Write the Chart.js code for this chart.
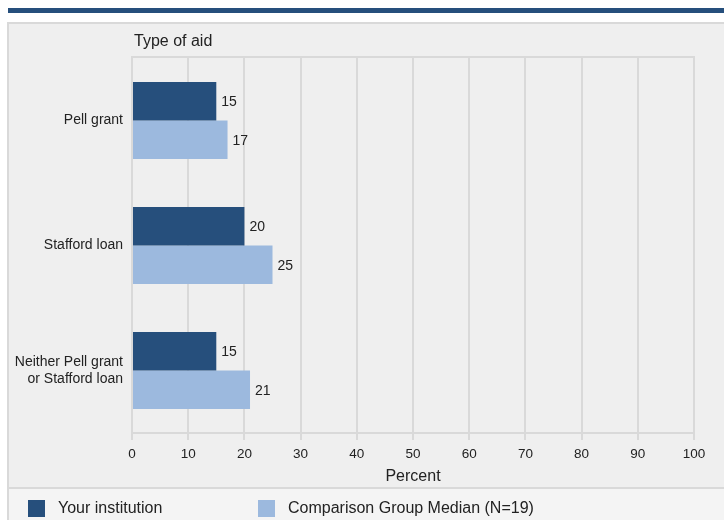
<!DOCTYPE html>
<html lang="en">
<head>
    <meta charset="UTF-8">
    <title>Type of aid</title>
    <style>
        body {
            margin: 0;
            padding: 0;
            background: #ffffff;
            font-family: "Liberation Sans", Arial, sans-serif;
        }
        #wrap {
            position: relative;
            width: 724px;
            height: 520px;
        }
    </style>
</head>
<body>
    <div id="wrap">
        <canvas id="aidChart" width="724" height="520"></canvas>
    </div>

    <script src="https://cdn.jsdelivr.net/npm/chart.js"></script>
    <script>
        // chart data
        const categories = ['Pell grant', 'Stafford loan', ['Neither Pell grant', 'or Stafford loan']];
        const seriesNames = ['Your institution', 'Comparison Group Median (N=19)'];
        const yourInstitution = [15, 20, 15];
        const comparisonMedian = [17, 25, 21];
        const xTicks = [0, 10, 20, 30, 40, 50, 60, 70, 80, 90, 100];

        const darkBlue = '#264f7c';
        const lightBlue = '#9cb9de';
        const gridColor = '#d9d9d9';
        const fontName = '"Liberation Sans", Arial, sans-serif';

        // panel, top stripe, legend and value labels
        const decorPlugin = {
            id: 'decor',
            beforeDraw(chart) {
                const ctx = chart.ctx;
                ctx.save();
                ctx.fillStyle = '#ffffff';
                ctx.fillRect(0, 0, 724, 520);
                // dark stripe at the top
                ctx.fillStyle = darkBlue;
                ctx.fillRect(8, 8, 716, 5);
                // grey panel
                ctx.fillStyle = '#efefef';
                ctx.fillRect(8, 23, 716, 465);
                ctx.fillStyle = '#f4f4f4';
                ctx.fillRect(8, 489, 716, 31);
                ctx.strokeStyle = gridColor;
                ctx.lineWidth = 2;
                ctx.beginPath();
                ctx.moveTo(8, 520);
                ctx.lineTo(8, 23);
                ctx.lineTo(724, 23);
                ctx.moveTo(8, 488);
                ctx.lineTo(724, 488);
                ctx.stroke();
                // axis title on top
                ctx.fillStyle = '#222222';
                ctx.font = '16px ' + fontName;
                ctx.textBaseline = 'middle';
                ctx.textAlign = 'left';
                ctx.fillText('Type of aid', 134, 42);
                ctx.restore();
            },
            beforeDatasetsDraw(chart) {
                const a = chart.chartArea;
                const ctx = chart.ctx;
                ctx.save();
                ctx.strokeStyle = gridColor;
                ctx.lineWidth = 2;
                ctx.beginPath();
                ctx.moveTo(a.left - 1, a.top - 1);
                ctx.lineTo(a.right + 1, a.top - 1);
                ctx.stroke();
                ctx.restore();
            },
            afterDraw(chart) {
                const ctx = chart.ctx;
                ctx.save();
                ctx.font = '14px ' + fontName;
                ctx.fillStyle = '#222222';
                ctx.textBaseline = 'middle';
                ctx.textAlign = 'left';
                chart.data.datasets.forEach((ds, i) => {
                    chart.getDatasetMeta(i).data.forEach((bar, j) => {
                        ctx.fillText(ds.data[j], bar.x + 5, bar.y + 1);
                    });
                });
                // legend
                const colors = [darkBlue, lightBlue];
                const legendX = [28, 258];
                ctx.font = '16px ' + fontName;
                seriesNames.forEach((name, i) => {
                    ctx.fillStyle = colors[i];
                    ctx.fillRect(legendX[i], 500, 17, 17);
                    ctx.fillStyle = '#222222';
                    ctx.fillText(name, legendX[i] + 30, 509);
                });
                ctx.restore();
            }
        };

        new Chart(document.getElementById('aidChart'), {
            type: 'bar',
            data: {
                labels: categories,
                datasets: [
                    {
                        label: seriesNames[0],
                        data: yourInstitution,
                        backgroundColor: darkBlue
                    },
                    {
                        label: seriesNames[1],
                        data: comparisonMedian,
                        backgroundColor: lightBlue
                    }
                ]
            },
            options: {
                indexAxis: 'y',
                responsive: false,
                animation: false,
                barPercentage: 1,
                categoryPercentage: 0.615,
                layout: {
                    padding: { top: 58, right: 30, bottom: 30, left: 0 }
                },
                plugins: {
                    legend: { display: false },
                    tooltip: { enabled: false }
                },
                scales: {
                    x: {
                        min: 0,
                        max: 100,
                        afterBuildTicks(scale) {
                            scale.ticks = xTicks.map(v => ({ value: v }));
                        },
                        afterFit(scale) {
                            scale.height = 57;
                        },
                        grid: {
                            color: gridColor,
                            lineWidth: 2,
                            tickLength: 7
                        },
                        border: { color: gridColor, width: 2 },
                        ticks: {
                            color: '#222222',
                            padding: 6,
                            maxRotation: 0,
                            font: { family: fontName, size: 13.5 }
                        },
                        title: {
                            display: true,
                            text: 'Percent',
                            color: '#222222',
                            padding: { top: 4, bottom: 4 },
                            font: { family: fontName, size: 16 }
                        }
                    },
                    y: {
                        afterFit(scale) {
                            scale.width = 132;
                        },
                        grid: { display: false, drawTicks: false, tickLength: 0 },
                        border: { display: false },
                        ticks: {
                            color: '#222222',
                            padding: 9,
                            font: { family: fontName, size: 14 }
                        }
                    }
                }
            },
            plugins: [decorPlugin]
        });
    </script>
</body>
</html>
